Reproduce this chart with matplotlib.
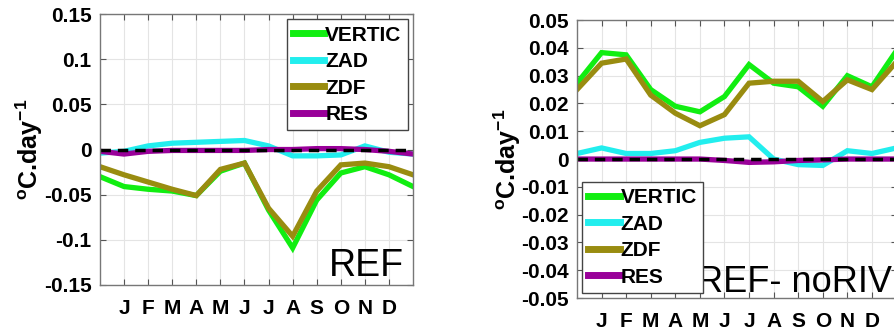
import numpy as np
import matplotlib
matplotlib.use("Agg")
import matplotlib.pyplot as plt

plt.rcParams['font.family'] = ['Liberation Sans', 'DejaVu Sans']
plt.rcParams['font.weight'] = 'bold'
plt.rcParams['mathtext.fontset'] = 'custom'
plt.rcParams['mathtext.bf'] = 'Liberation Sans:bold'
plt.rcParams['mathtext.rm'] = 'Liberation Sans:bold'
plt.rcParams['mathtext.default'] = 'bf'

# months (x = 0 .. 13, ticks at 1..12)
months = ['J', 'F', 'M', 'A', 'M', 'J', 'J', 'A', 'S', 'O', 'N', 'D']
x = np.arange(14)

# panel 1: REF
ref_vertic = [-0.030, -0.041, -0.044, -0.046, -0.051, -0.024, -0.015, -0.067,
              -0.109, -0.056, -0.026, -0.019, -0.028, -0.041]
ref_zad = [-0.004, -0.002, 0.004, 0.007, 0.008, 0.009, 0.010, 0.004,
           -0.007, -0.007, -0.006, 0.004, -0.003, -0.005]
ref_zdf = [-0.019, -0.028, -0.036, -0.044, -0.051, -0.022, -0.015, -0.065,
           -0.096, -0.046, -0.017, -0.015, -0.019, -0.028]
ref_res = [-0.002, -0.005, -0.002, -0.001, -0.001, -0.001, -0.001, 0.000,
           0.000, 0.001, 0.001, 0.000, -0.002, -0.005]

# panel 2: REF - noRIV
diff_vertic = [0.0273, 0.0383, 0.0375, 0.025, 0.019, 0.017, 0.0225, 0.034,
               0.0273, 0.026, 0.019, 0.030, 0.026, 0.039]
diff_zad = [0.002, 0.004, 0.002, 0.002, 0.003, 0.006, 0.0075, 0.008,
            0.000, -0.002, -0.0023, 0.003, 0.002, 0.004]
diff_zdf = [0.025, 0.0345, 0.036, 0.023, 0.0165, 0.012, 0.016, 0.0273,
            0.028, 0.028, 0.0207, 0.0285, 0.025, 0.035]
diff_res = [0.000, 0.000, 0.000, 0.000, 0.000, 0.000, -0.0005, -0.0012,
            -0.001, -0.0005, -0.0003, 0.000, 0.000, 0.000]

labels = ['VERTIC', 'ZAD', 'ZDF', 'RES']
colors = ['#11ee11', '#22eeee', '#998c10', '#990099']

fig = plt.figure(figsize=(8.95, 3.35), dpi=100)
ax1 = fig.add_axes([0.1117, 0.1493, 0.3498, 0.8087])
ax2 = fig.add_axes([0.6447, 0.1104, 0.3570, 0.8296])


def draw(ax, series, ylim, yticks, ylabel_x, legend_loc, tag, tag_xy):
    handles = []
    for s, lab, c in zip(series, labels, colors):
        h, = ax.plot(x, s, color=c, lw=3.8, label=lab, solid_joinstyle='miter')
        handles.append(h)
    ax.plot([0, 13], [0, 0], 'k--', lw=2.5, dashes=(3, 2))
    ax.set_xlim(0, 13)
    ax.set_ylim(*ylim)
    ax.set_yticks(yticks)
    ax.set_yticklabels([('%g' % t) for t in yticks], fontsize=15, fontweight='bold')
    ax.set_xticks(np.arange(1, 13))
    ax.set_xticklabels(months, fontsize=15, fontweight='bold')
    ax.grid(True, color='#e4e4e4', lw=0.8)
    ax.tick_params(direction='in', top=True, right=True, length=4, color='#555555',
                   pad=6)
    ax.tick_params(axis='x', pad=10)
    for sp in ax.spines.values():
        sp.set_color('#777777')
        sp.set_linewidth(1.0)
    ax.set_ylabel(r'$^{o}$C.day$^{-1}$', fontsize=18, fontweight='bold')
    ax.yaxis.set_label_coords(ylabel_x, 0.5)
    leg = ax.legend(handles=handles, loc=legend_loc, fontsize=15, handlelength=1.5,
                    handletextpad=0.05, labelspacing=0.36, borderpad=0.3,
                    borderaxespad=0.25, fancybox=False, framealpha=1,
                    edgecolor='#444444')
    for t in leg.get_texts():
        t.set_fontweight('bold')
    for l in leg.get_lines():
        l.set_linewidth(5)
    ax.text(tag_xy[0], tag_xy[1], tag, transform=ax.transAxes, fontsize=tag_xy[3],
            fontweight='normal', ha=tag_xy[2], va='baseline')


draw(ax1, [ref_vertic, ref_zad, ref_zdf, ref_res], (-0.15, 0.15),
     [-0.15, -0.1, -0.05, 0, 0.05, 0.1, 0.15], -0.175, 'upper right', 'REF',
     (0.97, 0.035, 'right', 27))
draw(ax2, [diff_vertic, diff_zad, diff_zdf, diff_res], (-0.05, 0.05),
     np.round(np.arange(-0.05, 0.051, 0.01), 2), -0.17, 'lower left', 'REF- noRIV',
     (0.376, 0.022, 'left', 26))

fig.savefig('out.png', dpi=100)
